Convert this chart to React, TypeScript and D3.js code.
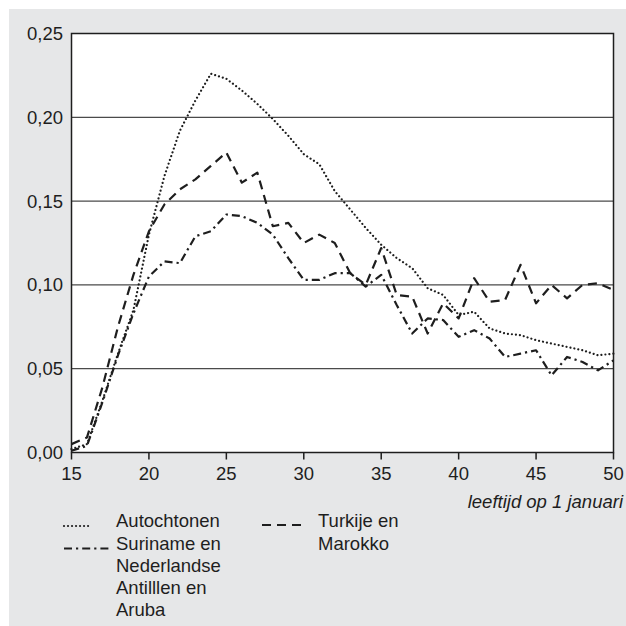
import React from "react";
import * as d3 from "d3";

const ages = [15, 16, 17, 18, 19, 20, 21, 22, 23, 24, 25, 26, 27, 28, 29, 30, 31, 32, 33, 34, 35, 36, 37, 38, 39, 40, 41, 42, 43, 44, 45, 46, 47, 48, 49, 50];

const autochtonen = [0.002, 0.005, 0.031, 0.059, 0.085, 0.13, 0.165, 0.192, 0.21, 0.226, 0.223, 0.216, 0.208, 0.199, 0.189, 0.178, 0.172, 0.156, 0.145, 0.134, 0.124, 0.116, 0.11, 0.098, 0.094, 0.082, 0.084, 0.074, 0.071, 0.07, 0.067, 0.065, 0.063, 0.061, 0.058, 0.059];

const suriname = [0.001, 0.004, 0.03, 0.058, 0.083, 0.105, 0.114, 0.113, 0.129, 0.132, 0.142, 0.141, 0.137, 0.13, 0.116, 0.103, 0.103, 0.107, 0.107, 0.099, 0.106, 0.088, 0.071, 0.08, 0.079, 0.069, 0.073, 0.068, 0.057, 0.059, 0.061, 0.046, 0.057, 0.054, 0.049, 0.055];

const turkije = [0.005, 0.009, 0.039, 0.075, 0.106, 0.132, 0.148, 0.157, 0.163, 0.171, 0.179, 0.161, 0.167, 0.135, 0.137, 0.125, 0.13, 0.125, 0.107, 0.1, 0.122, 0.094, 0.093, 0.071, 0.089, 0.08, 0.104, 0.09, 0.091, 0.112, 0.089, 0.1, 0.092, 0.1, 0.101, 0.097];

const yTicks = [0, 0.05, 0.1, 0.15, 0.2, 0.25];
const xTicks = [15, 20, 25, 30, 35, 40, 45, 50];
const xTitle = "leeftijd op 1 januari";

const FONT = "'Liberation Sans', Arial, Helvetica, sans-serif";
const INK = "#1e1e1e";
const FS = 18.5;

const styles = {
  dotted: { dash: "0.01 4", cap: "round" as const, width: 2.2 },
  dashdot: { dash: "8 4 2.2 4", cap: "butt" as const, width: 2.2 },
  dashed: { dash: "9 6", cap: "butt" as const, width: 2.2 },
};

export default function App() {
  const x = d3.scaleLinear().domain([15, 50]).range([71.5, 613.5]);
  const y = d3.scaleLinear().domain([0, 0.25]).range([452.5, 33.5]);
  const line = d3
    .line<number>()
    .x((_, i) => x(ages[i]))
    .y((d) => y(d));
  const fmt = (v: number) => v.toFixed(2).replace(".", ",");

  const series = [
    { vals: autochtonen, st: styles.dotted },
    { vals: suriname, st: styles.dashdot },
    { vals: turkije, st: styles.dashed },
  ];

  const legendLeft = [
    { st: styles.dotted, x1: 64, x2: 92, lines: ["Autochtonen"] },
    { st: styles.dashdot, x1: 64, x2: 110, lines: ["Suriname en", "Nederlandse", "Antilllen en", "Aruba"] },
  ];

  return (
    <svg width={626} height={626} style={{ position: "absolute", left: 0, top: 0 }} fontFamily={FONT}>
      <rect x={9} y={9} width={617} height={617} fill="#e6e7e8" />
      <rect x={x(15)} y={y(0.25)} width={x(50) - x(15)} height={y(0) - y(0.25)} fill="#ffffff" />
      {yTicks.slice(1, -1).map((t) => (
        <line key={t} x1={x(15)} x2={x(50)} y1={y(t)} y2={y(t)} stroke="#4a4a4a" strokeWidth={1.3} />
      ))}
      {series.map((s, i) => (
        <path
          key={i}
          d={line(s.vals) || ""}
          fill="none"
          stroke={INK}
          strokeWidth={s.st.width}
          strokeDasharray={s.st.dash}
          strokeLinecap={s.st.cap}
          strokeLinejoin="round"
        />
      ))}
      <rect x={x(15)} y={y(0.25)} width={x(50) - x(15)} height={y(0) - y(0.25)} fill="none" stroke={INK} strokeWidth={1.5} />
      {xTicks.map((t) => (
        <g key={t}>
          <line x1={x(t)} x2={x(t)} y1={y(0)} y2={y(0) + 7} stroke={INK} strokeWidth={1.5} />
          <text x={x(t)} y={480} textAnchor="middle" fontSize={FS} fill={INK}>
            {t}
          </text>
        </g>
      ))}
      {yTicks.map((t) => (
        <text key={t} x={63} y={y(t) + 6.5} textAnchor="end" fontSize={FS} fill={INK}>
          {fmt(t)}
        </text>
      ))}
      <text x={623} y={508} textAnchor="end" fontSize={FS} fontStyle="italic" fill={INK}>
        {xTitle}
      </text>
      {legendLeft.map((item, i) => {
        const base = i === 0 ? 527 : 549.5;
        return (
          <g key={i}>
            <line
              x1={item.x1}
              x2={item.x2}
              y1={base - 1}
              y2={base - 1}
              stroke={INK}
              strokeWidth={item.st.width}
              strokeDasharray={item.st.dash}
              strokeLinecap={item.st.cap}
            />
            {item.lines.map((l, j) => (
              <text key={j} x={116} y={base + j * 22.3} fontSize={FS} fill={INK}>
                {l}
              </text>
            ))}
          </g>
        );
      })}
      <line x1={262} x2={302} y1={525} y2={525} stroke={INK} strokeWidth={2.2} strokeDasharray="9 6" />
      <text x={318} y={527} fontSize={FS} fill={INK}>
        Turkije en
      </text>
      <text x={318} y={549.5} fontSize={FS} fill={INK}>
        Marokko
      </text>
    </svg>
  );
}
